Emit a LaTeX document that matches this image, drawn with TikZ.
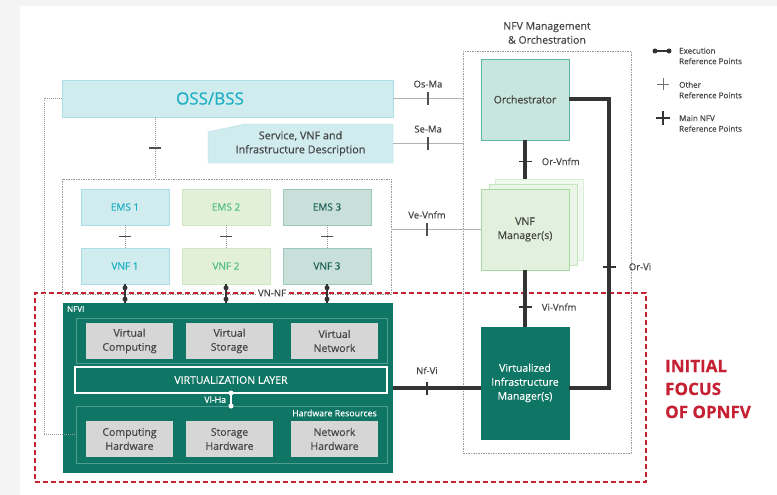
\documentclass[tikz,border=0pt]{standalone}
\usepackage{fontspec}
\setmainfont{Open Sans}[FakeBold=0.35]
\usepackage{tikz}
\usetikzlibrary{positioning}
\definecolor{opbg}{HTML}{F4F4F4}
\definecolor{opcyanfill}{HTML}{D1ECEF}
\definecolor{opcyanline}{HTML}{A9DEE6}
\definecolor{opcyantext}{HTML}{1CAFC2}
\definecolor{opgreenfill}{HTML}{E2F0DA}
\definecolor{opgreenline}{HTML}{CDE8C2}
\definecolor{opgreentext}{HTML}{52BE80}
\definecolor{optealfill}{HTML}{C9E0DA}
\definecolor{optealline}{HTML}{9CC7BC}
\definecolor{optealtext}{HTML}{1E6257}
\definecolor{oporchfill}{HTML}{C8E6DD}
\definecolor{oporchline}{HTML}{5DB6A4}
\definecolor{opvnfmfill}{HTML}{E1F1DD}
\definecolor{opvnfmline}{HTML}{A9DBA1}
\definecolor{opnfvi}{HTML}{0F7564}
\definecolor{opsubline}{HTML}{4E9D8E}
\definecolor{opgray}{HTML}{D6D6D6}
\definecolor{optext}{HTML}{454545}
\definecolor{opdark}{HTML}{333333}
\definecolor{optick}{HTML}{505050}
\definecolor{oprefline}{HTML}{B3B3B3}
\definecolor{opdot}{HTML}{9A9A9A}
\definecolor{opred}{HTML}{C62033}

\begin{document}
\begin{tikzpicture}[
  x=1pt, y=-1pt,
  font=\fontsize{10.5}{14}\selectfont,
  box/.style={draw, inner sep=0pt, outer sep=0pt, align=center,
              minimum width=88pt, minimum height=36pt},
  cybox/.style={box, fill=opcyanfill, draw=opcyanline, text=opcyantext},
  grbox/.style={box, fill=opgreenfill, draw=opgreenline, text=opgreentext},
  tlbox/.style={box, fill=optealfill, draw=optealline, text=optealtext},
  hwbox/.style={box, draw=none, fill=opgray, text=optext, minimum width=87pt},
  grpbox/.style={draw=opdot, dash pattern=on 1.5pt off 1pt, line width=0.7pt,
                 inner sep=0pt, outer sep=0pt},
  subgrp/.style={draw=opsubline, line width=0.8pt, inner sep=0pt, outer sep=0pt},
  refline/.style={draw=oprefline, line width=1.1pt},
  dotline/.style={draw=opdot, line width=0.7pt, dash pattern=on 1pt off 1pt},
  mainline/.style={draw=opdark, line width=4pt},
  execline/.style={draw=opdark, line width=1.5pt},
  vtick/.style={fill=optick, inner sep=0pt, minimum width=1.6pt, minimum height=13pt},
  htick/.style={fill=optick, inner sep=0pt, minimum width=12pt, minimum height=1.6pt},
  mtick/.style={fill=opdark, inner sep=0pt, minimum width=13pt, minimum height=1.8pt},
  exdot/.style={circle, fill=opdark, inner sep=0pt, minimum size=5pt},
  wdot/.style={circle, fill=white, inner sep=0pt, minimum size=5pt},
  lbl/.style={text=optext, font=\fontsize{9.5}{11}\selectfont},
  legend/.style={text=optext, align=left, anchor=west, inner sep=0pt,
                 font=\fontsize{8}{10.5}\selectfont},
]
% page and white sheet
\useasboundingbox (0,0) rectangle (777,495);
\fill[opbg] (0,0) rectangle (777,495);
\fill[white] (20,6) rectangle (777,495);

% focus of OPNFV
\node[draw=opred, line width=2.5pt, dash pattern=on 5pt off 3pt, inner sep=0pt,
      minimum width=611pt, minimum height=189pt] (focus) at (340.5,387.5) {};
\node[anchor=west, inner sep=0pt, align=left, text=opred,
      font=\bfseries\fontsize{17}{23}\selectfont] (focuslbl) at (665,389)
     {INITIAL\\FOCUS\\OF OPNFV};

% OSS/BSS and descriptions
\node[cybox, minimum width=331pt, minimum height=37pt] (oss) at (227.5,98.5) {};
\node[text=opcyantext, font=\fontsize{17}{22}\selectfont] (osslbl) at (210,98.5) {OSS/BSS};
\fill[opcyanfill, draw=opcyanline] (208,163) -- (208,132) -- (245,124) -- (393,124)
  -- (393,163) -- cycle;
\node[align=center, text=optext, minimum width=185pt, minimum height=39pt,
      inner sep=0pt, font=\fontsize{10.8}{14}\selectfont] (desc) at (300.5,143.5)
     {Service, VNF and\\Infrastructure Description};

% EMS / VNF
\node[grpbox, minimum width=329pt, minimum height=115pt] (emsgrp) at (226.5,236.5) {};
\node[cybox, font=\fontsize{10}{14}\selectfont] (ems1) at (125,207) {EMS 1};
\node[grbox, font=\fontsize{10}{14}\selectfont, right=13pt of ems1] (ems2) {EMS 2};
\node[tlbox, font=\fontsize{10}{14}\selectfont, right=13pt of ems2] (ems3) {EMS 3};
\node[cybox, font=\fontsize{10}{14}\selectfont, below=23pt of ems1] (vnf1) {VNF 1};
\node[grbox, font=\fontsize{10}{14}\selectfont, below=23pt of ems2] (vnf2) {VNF 2};
\node[tlbox, font=\fontsize{10}{14}\selectfont, below=23pt of ems3] (vnf3) {VNF 3};

% NFVI
\node[fill=opnfvi, inner sep=0pt, outer sep=0pt, minimum width=330pt,
      minimum height=170pt] (nfvi) at (228,388) {};
\node[anchor=west, inner sep=0pt, text=white, font=\fontsize{8}{10}\selectfont]
     (nfvilbl) at ([xshift=4pt,yshift=-6pt]nfvi.north west) {NFVI};
\node[subgrp, minimum width=311pt, minimum height=45pt] (virtgrp) at (231.5,340.5) {};
\node[hwbox] (vcomp) at (129.5,341) {Virtual\\Computing};
\node[hwbox] (vstor) at (229.5,341) {Virtual\\Storage};
\node[hwbox] (vnet) at (334.5,341) {Virtual\\Network};
\node[draw=white, line width=1.5pt, inner sep=0pt, outer sep=0pt, text=white,
      minimum width=312pt, minimum height=26pt] (vlayer) at (231,380)
     {VIRTUALIZATION LAYER};
\node[subgrp, minimum width=311pt, minimum height=57pt] (hwgrp) at (231.5,434.5) {};
\node[anchor=east, inner sep=0pt, text=white, font=\fontsize{8.8}{10}\selectfont]
     (hwlbl) at ([xshift=-10pt,yshift=-7pt]hwgrp.north east) {Hardware Resources};
\node[hwbox] (chw) at (129.5,439) {Computing\\Hardware};
\node[hwbox] (shw) at (229.5,439) {Storage\\Hardware};
\node[hwbox] (nhw) at (334.5,439) {Network\\Hardware};

% NFV MANO
\node[grpbox, minimum width=168pt, minimum height=402pt] (mano) at (547,252) {};
\node[align=center, text=optext] (manolbl) at (547,33) {NFV Management\\\& Orchestration};
\node[box, fill=oporchfill, draw=oporchline, text=optext, minimum height=81pt]
     (orch) at (525,99.5) {Orchestrator};
\node[box, fill=opvnfmfill!45, draw=opvnfmline!45, minimum height=81pt] (vnfmb2) at (539,219.5) {};
\node[box, fill=opvnfmfill!70, draw=opvnfmline!70, minimum height=81pt] (vnfmb1) at (533,224.5) {};
\node[box, fill=opvnfmfill, draw=opvnfmline, text=optext, minimum height=81pt]
     (vnfm) at (525,229.5) {VNF\\Manager(s)};
\node[box, fill=opnfvi, draw=opnfvi, text=white, minimum height=112pt]
     (vim) at (525,383) {Virtualized\\Infrastructure\\Manager(s)};

% other reference points
\draw[refline] (oss.east) -- node[vtick, label={[lbl]above:Os-Ma}] {} (mano.west |- oss.east);
\draw[refline] (desc.east) -- node[vtick, label={[lbl]above:Se-Ma}] {} (mano.west |- desc.east);
\draw[refline] (emsgrp.east |- vnfm.west) -- node[vtick, pos=0.4, label={[lbl]above:Ve-Vnfm}] {} (vnfm.west);
\draw[dotline] ([xshift=-72.5pt]oss.south) -- node[htick, pos=0.5] {} ([xshift=-71.5pt]emsgrp.north);
\draw[dotline] (oss.west) -- ++(-18,0) |- (hwgrp.west);
\foreach \i in {1,2,3}{
  \draw[dotline] (ems\i.south) -- node[htick] {} (vnf\i.north);
  \draw[execline] (vnf\i.south) -- node[exdot, pos=0.2] {} node[exdot, pos=0.8] {}
    (vnf\i.south |- nfvi.north);
}
\node[lbl, fill=white, inner sep=2pt] (vnnf) at (272,293) {VN-NF};
\draw[white, line width=2pt] (vlayer.south) -- node[wdot, pos=0] {} node[wdot, pos=1] {}
  node[midway, left=4pt, text=white, inner sep=0pt, font=\fontsize{8.8}{10}\selectfont] {Vl-Ha}
  (vlayer.south |- hwgrp.north);

% main NFV reference points
\draw[mainline] (orch.south) -- node[mtick, pos=0.55, label={[lbl, label distance=3pt]right:Or-Vnfm}] {}
  (orch.south |- vnfmb2.north);
\draw[mainline] (vnfm.south) -- node[mtick, pos=0.65, label={[lbl, label distance=3pt]right:Vi-Vnfm}] {}
  (vim.north);
\draw[mainline] (orch.east) -- ++(40,0) |- node[mtick, pos=0.29, label={[lbl, label distance=6pt]right:Or-Vi}] {}
  ([yshift=-5pt]vim.east);
\draw[mainline] (nfvi.east) -- node[vtick, fill=opdark, pos=0.386, label={[lbl]above:Nf-Vi}] {}
  ([yshift=-5pt]vim.west);

% legend
\coordinate (lgexA) at (655,51);
\coordinate (lgexB) at (669,51);
\draw[execline] (lgexA) -- node[exdot, pos=0] {} node[exdot, pos=1] {} (lgexB);
\node[legend] (lgexec) at (679,56) {Execution\\Reference Points};
\coordinate (lgoth) at (663,84);
\draw[optick!80, line width=0.8pt] ([xshift=-6pt]lgoth) -- ([xshift=6pt]lgoth)
  ([yshift=-6pt]lgoth) -- ([yshift=6pt]lgoth);
\node[legend] (lgother) at (679,90) {Other\\Reference Points};
\coordinate (lgmain) at (663,118);
\draw[opdark, line width=1.8pt] ([xshift=-7pt]lgmain) -- ([xshift=7pt]lgmain)
  ([yshift=-7pt]lgmain) -- ([yshift=7pt]lgmain);
\node[legend] (lgmainlbl) at (679,123.5) {Main NFV\\Reference Points};
\end{tikzpicture}
\end{document}
